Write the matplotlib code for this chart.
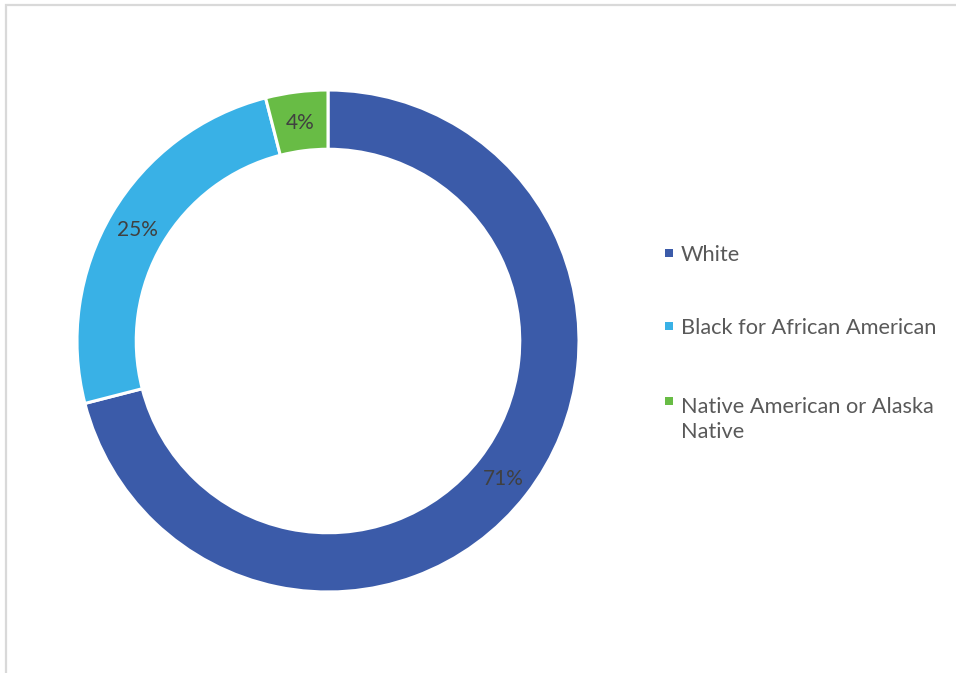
import matplotlib
matplotlib.use("Agg")
import matplotlib.pyplot as plt
from matplotlib.patches import Rectangle

categories = ["White", "Black for African American", "Native American or Alaska\nNative"]
values = [71, 25, 4]
colors = ["#3B5BA9", "#39B1E6", "#68BC45"]

plt.rcParams['font.family'] = ['Lato', 'DejaVu Sans']

W, H = 956, 673
fig = plt.figure(figsize=(W / 100, H / 100), dpi=100)

# border
fig.patches.append(Rectangle((6 / W, -0.05), 1.2, 1 - 5 / H + 0.05, transform=fig.transFigure,
                             fill=False, edgecolor="#D9D9D9", linewidth=1.6))

cx, cy, R = 328, 341, 251
ax = fig.add_axes([(cx - R) / W, (H - cy - R) / H, 2 * R / W, 2 * R / H])
ring = 0.236
wedges, texts, autotexts = ax.pie(
    values, colors=colors, startangle=90, counterclock=False, radius=1,
    autopct=lambda p: f"{p:.0f}%", pctdistance=1 - ring / 2,
    wedgeprops=dict(width=ring, edgecolor="white", linewidth=2.2),
    textprops=dict(color="#404040", fontsize=15))
for t in autotexts:
    t.set_va("center_baseline")
ax.set_xlim(-1, 1)
ax.set_ylim(-1, 1)
ax.set_aspect("equal")
ax.axis("off")

# legend (manual layout, colors/labels from data)
row_baselines = [261, 334, 409]
line_step = 29
sq = 8
for cat, col, yb in zip(categories, colors, row_baselines):
    yc = yb - 8
    fig.patches.append(Rectangle((665 / W, 1 - (yc + sq / 2) / H), sq / W, sq / H,
                                 transform=fig.transFigure, facecolor=col, edgecolor="none"))
    nlines = cat.count("\n")
    fig.text(681 / W, 1 - (yb + nlines * line_step) / H, cat, fontsize=15.7, color="#595959",
             va="baseline", ha="left", linespacing=1.33)

fig.savefig("out.png", dpi=100)
